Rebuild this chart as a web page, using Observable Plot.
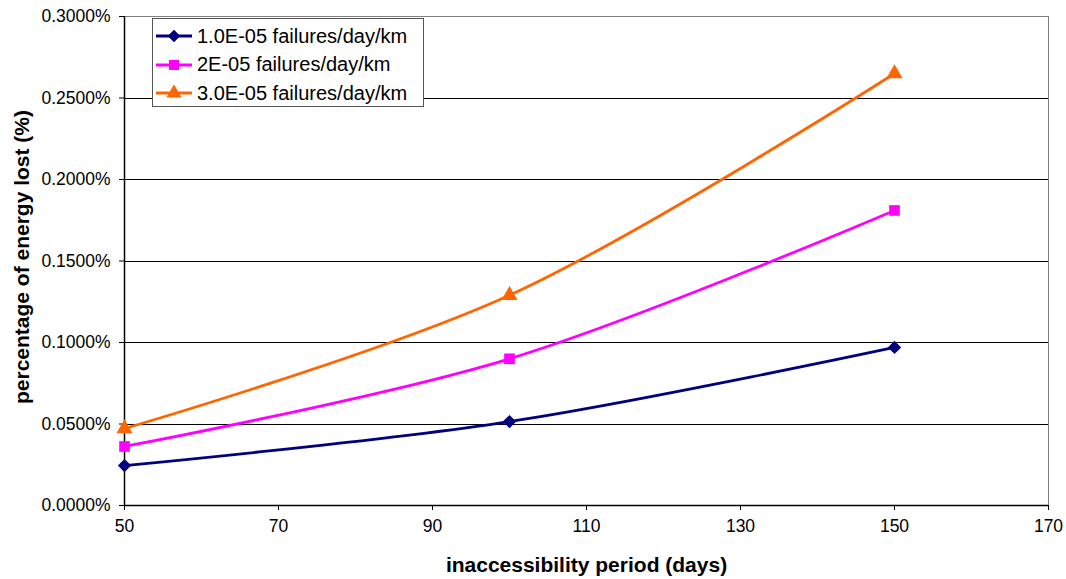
<!DOCTYPE html>
<html>
<head>
<meta charset="utf-8">
<script src="https://cdn.jsdelivr.net/npm/d3@7"></script>
<script src="https://cdn.jsdelivr.net/npm/@observablehq/plot@0.6"></script>
<style>
  html, body { margin: 0; padding: 0; background: #fff; }
  #wrap { position: relative; width: 1066px; height: 579px; font-family: "Liberation Sans", Arial, sans-serif; }
  #legend { position: absolute; left: 152px; top: 18px; width: 272px; height: 89px; background: #fff; border: 1px solid #555; box-sizing: border-box; padding-top: 3px; }
  .item { display: flex; align-items: center; height: 28.5px; font-size: 20px; color: #000; white-space: nowrap; }
  .item svg { margin-left: 3px; margin-right: 5px; }
</style>
</head>
<body>
<div id="wrap"></div>
<script>
const days = [50, 100, 150];
const seriesNames = ["1.0E-05 failures/day/km", "2E-05 failures/day/km", "3.0E-05 failures/day/km"];
const seriesColors = ["#000080", "#FF00FF", "#FF6600"];
const seriesSymbols = ["diamond2", "square", "triangle"];
const s1 = [0.0245, 0.0515, 0.0970];
const s2 = [0.0362, 0.0900, 0.1810];
const s3 = [0.0472, 0.1290, 0.2650];
const yTicks = [0, 0.05, 0.10, 0.15, 0.20, 0.25, 0.30];
const xTicks = [50, 70, 90, 110, 130, 150, 170];
const xLabel = "inaccessibility period (days)";
const yLabel = "percentage of energy lost (%)";

const allValues = [s1, s2, s3];
const data = [];
allValues.forEach((vals, i) => vals.forEach((v, j) => data.push({series: seriesNames[i], x: days[j], y: v})));

const font = "Liberation Sans, Arial, sans-serif";
const chart = Plot.plot({
  width: 1066,
  height: 579,
  marginLeft: 124,
  marginRight: 18,
  marginTop: 16,
  marginBottom: 74,
  style: {fontFamily: font, fontSize: "17.5px", background: "#fff", color: "#000"},
  x: {domain: [50, 170], ticks: xTicks},
  y: {domain: [0, 0.3], ticks: yTicks},
  color: {domain: seriesNames, range: seriesColors},
  symbol: {domain: seriesNames, range: seriesSymbols},
  marks: [
    Plot.ruleY(yTicks.filter(d => d > 0 && d < 0.3), {stroke: "#000", strokeWidth: 1, shapeRendering: "crispEdges"}),
    Plot.ruleY([0.3], {stroke: "#808080", strokeWidth: 1.5, shapeRendering: "crispEdges"}),
    Plot.ruleX([170], {stroke: "#808080", strokeWidth: 1.5, shapeRendering: "crispEdges"}),
    Plot.axisX({ticks: xTicks, tickSize: 5, tickPadding: 9, fontSize: 17.5, label: null, tickFormat: d => String(d)}),
    Plot.axisY({ticks: yTicks, tickSize: 5, tickPadding: 9, fontSize: 17.5, label: null, tickFormat: d => d.toFixed(4) + "%"}),
    Plot.ruleX([50], {stroke: "#000", strokeWidth: 1.5}),
    Plot.ruleY([0], {stroke: "#000", strokeWidth: 1.5}),
    Plot.line(data, {x: "x", y: "y", z: "series", stroke: "series", strokeWidth: 2.8, curve: "catmull-rom"}),
    Plot.dot(data, {x: "x", y: "y", symbol: "series", fill: "series", stroke: "none", r: 6}),
    Plot.text([xLabel], {frameAnchor: "bottom", dy: 60, fontSize: 21, fontWeight: "bold", textAnchor: "middle", lineAnchor: "middle"}),
    Plot.text([yLabel], {frameAnchor: "left", dx: -102, dy: -4, rotate: -90, fontSize: 21, fontWeight: "bold", textAnchor: "middle", lineAnchor: "middle"})
  ]
});
const wrap = document.getElementById("wrap");
wrap.appendChild(chart);

const legend = document.createElement("div");
legend.id = "legend";
const symMap = {diamond2: d3.symbolDiamond2, square: d3.symbolSquare, triangle: d3.symbolTriangle};
seriesNames.forEach((name, i) => {
  const item = document.createElement("div");
  item.className = "item";
  const sym = d3.symbol(symMap[seriesSymbols[i]], 100)();
  item.innerHTML = `<svg width="36" height="16"><line x1="0" y1="8" x2="36" y2="8" stroke="${seriesColors[i]}" stroke-width="2.8"/><path d="${sym}" transform="translate(18,8)" fill="${seriesColors[i]}"/></svg><span>${name}</span>`;
  legend.appendChild(item);
});
wrap.appendChild(legend);
</script>
</body>
</html>
